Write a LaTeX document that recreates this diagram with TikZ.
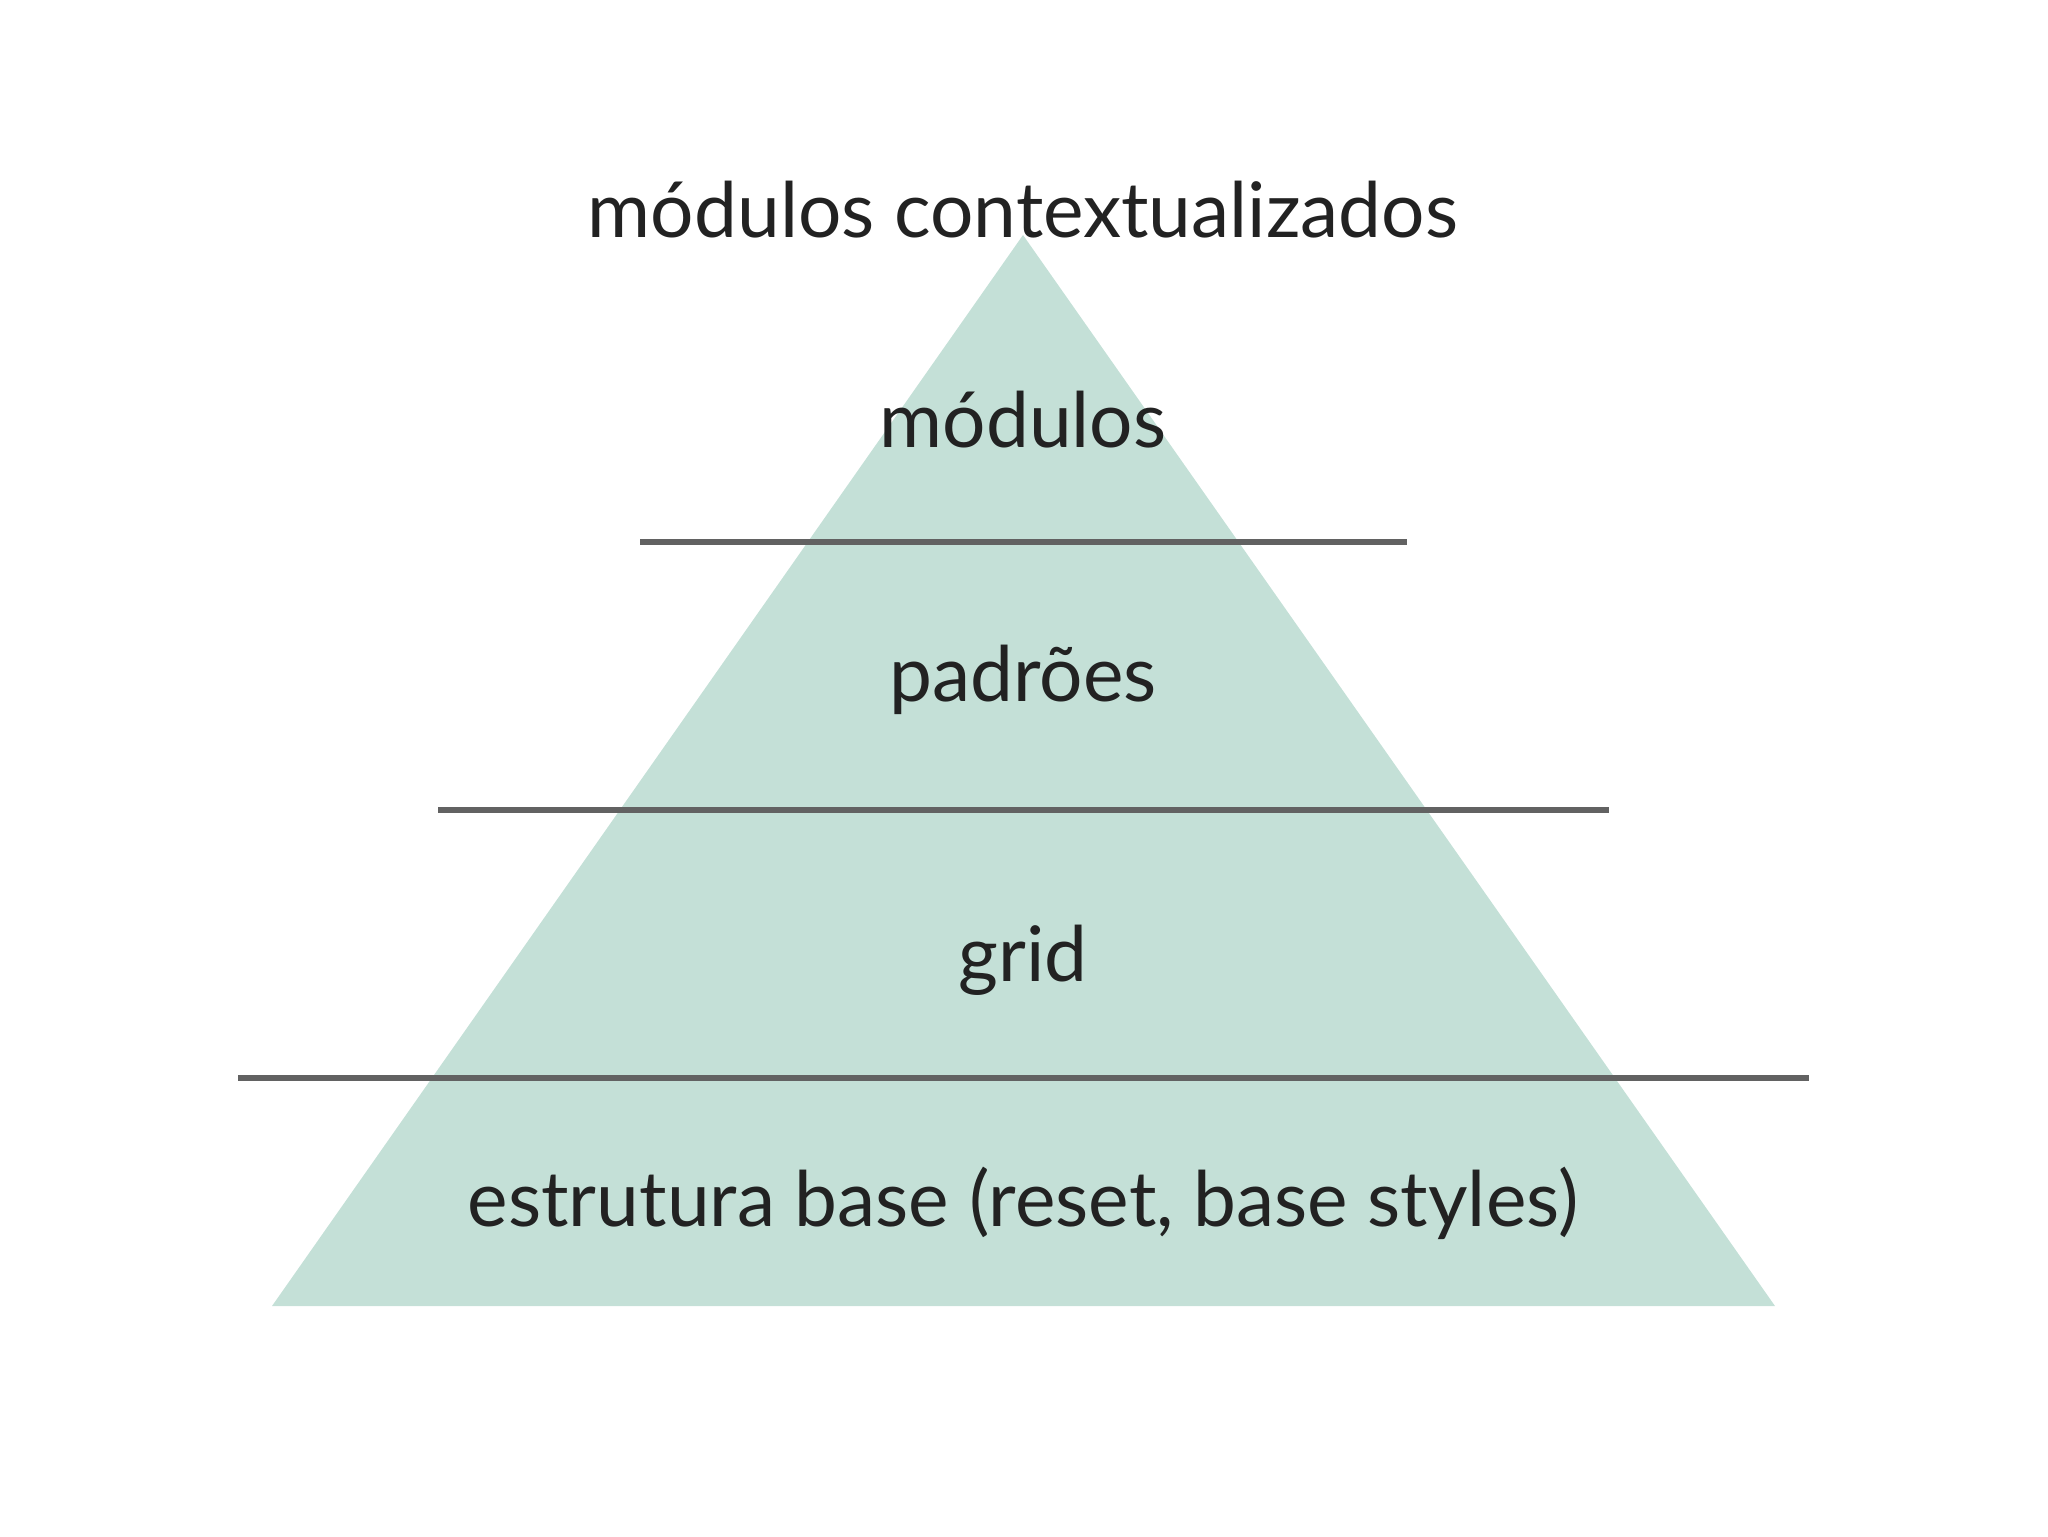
\documentclass[tikz,border=0pt]{standalone}
\usepackage{fontspec}
\setmainfont{Lato}
\usepackage{tikz}

\definecolor{layerfill}{HTML}{C4E0D7}
\definecolor{rulegray}{HTML}{626262}
\definecolor{textgray}{HTML}{222222}

\begin{document}
\begin{tikzpicture}[x=0.1mm,y=-0.1mm,
    label/.style = {anchor=base, text=textgray, font=\fontsize{21.8}{26}\selectfont, inner sep=0pt},
    divider/.style = {draw=rulegray, line width=1.6pt}]
        \useasboundingbox (0,0) rectangle (2048,1536);
        % pyramid
        \coordinate (top) at (1023,235);
        \coordinate (bl) at (272,1306);
        \coordinate (br) at (1775,1306);
        \fill[layerfill] (top) -- (br) -- (bl) -- cycle;
        % dividers
        \draw[divider] (640,542) -- (1407,542);
        \draw[divider] (438,810) -- (1609,810);
        \draw[divider] (238,1078) -- (1809,1078);
        % labels
        \node[label] (ctx) at (1023,237) {módulos contextualizados};
        \node[label] (mod) at (1023,447) {módulos};
        \node[label] (pad) at (1023,701) {padrões};
        \node[label] (grid) at (1023,981) {grid};
        \node[label] (base) at (1023,1226) {estrutura base (reset, base styles)};
\end{tikzpicture}
\end{document}
